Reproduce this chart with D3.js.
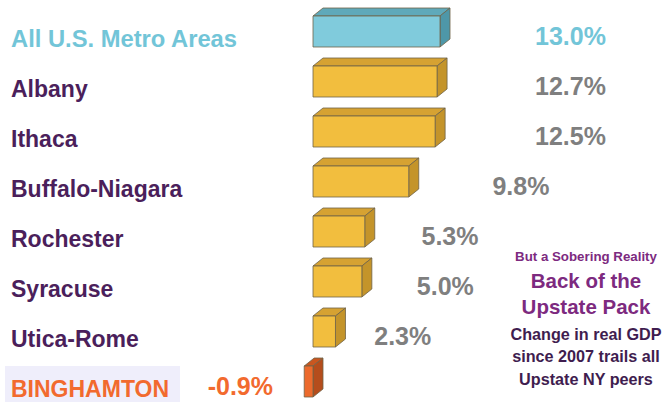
<!DOCTYPE html>
<html>
<head>
<meta charset="utf-8">
<script src="https://cdn.jsdelivr.net/npm/d3@7"></script>
<style>
  body { margin: 0; background: #fff; }
  svg { display: block; font-family: "Liberation Sans", Arial, sans-serif; }
  text { font-weight: 700; }
</style>
</head>
<body>
<svg></svg>
<script>
let width = 666;
let height = 402;

// data
let areas = ["All U.S. Metro Areas", "Albany", "Ithaca", "Buffalo-Niagara",
             "Rochester", "Syracuse", "Utica-Rome", "BINGHAMTON"];
let gdpChange = [13.0, 12.7, 12.5, 9.8, 5.3, 5.0, 2.3, -0.9];
let valueLabels = ["13.0%", "12.7%", "12.5%", "9.8%", "5.3%", "5.0%", "2.3%", "-0.9%"];
let noteLines = ["But a Sobering Reality", "Back of the", "Upstate Pack",
                 "Change in real GDP", "since 2007 trails all", "Upstate NY peers"];

// colours: front, top, side, label
let palette = {
  us:   {front: "#80cbdc", top: "#5fa9ba", side: "#4e97a8", label: "#72c5d8", value: "#72c5d8"},
  ny:   {front: "#f2be3e", top: "#d6a232", side: "#c4942a", label: "#4b1f5b", value: "#7f7f7f"},
  bing: {front: "#ec6a2c", top: "#c9561f", side: "#b54d1c", label: "#f26a2e", value: "#f26a2e"}
};
function kind(i) {
  if (i === 0) return "us";
  if (gdpChange[i] < 0) return "bing";
  return "ny";
}

let rows = areas.map((a, i) => ({name: a, value: gdpChange[i], label: valueLabels[i], k: kind(i)}));

let svg = d3.select("svg")
  .attr("width", width)
  .attr("height", height);

let x = d3.scaleLinear().domain([0, 13]).range([313, 440]);
let y = d3.scalePoint().domain(areas).range([47, 397]);
let labelX = d3.scaleLinear().domain([0, 12.5]).range([338, 535]).clamp(true);

let barH = 31, dx = 10, dy = 8;

// highlight behind Binghamton
svg.append("rect")
  .attr("x", 5)
  .attr("y", y("BINGHAMTON") - 31)
  .attr("width", 175)
  .attr("height", 40)
  .attr("fill", "#efeefb");

// category labels
let cats = svg.selectAll(".cat")
  .data(rows)
  .enter()
  .append("text")
    .attr("class", "cat")
    .attr("x", 11)
    .attr("y", d => y(d.name))
    .attr("font-size", "23px")
    .attr("fill", d => palette[d.k].label)
    .text(d => d.name);

// the US label was squeezed to fit its box
cats.filter(d => d.k === "us")
  .attr("textLength", 226)
  .attr("lengthAdjust", "spacingAndGlyphs");

// 3d boxes
let box = svg.selectAll(".box")
  .data(rows)
  .enter()
  .append("g")
    .attr("class", "box")
    .attr("stroke", "#6f6248")
    .attr("stroke-width", 0.8)
    .attr("stroke-linejoin", "round");

function geo(d) {
  let x0 = Math.min(x(0), x(d.value));
  let w = Math.abs(x(d.value) - x(0));
  let t = y(d.name) - barH;
  return {x0, w, t};
}

box.append("polygon")
  .attr("fill", d => palette[d.k].top)
  .attr("points", d => {
    let g = geo(d);
    return [[g.x0, g.t], [g.x0 + dx, g.t - dy], [g.x0 + g.w + dx, g.t - dy], [g.x0 + g.w, g.t]].join(" ");
  });

box.append("polygon")
  .attr("fill", d => palette[d.k].side)
  .attr("points", d => {
    let g = geo(d);
    return [[g.x0 + g.w, g.t], [g.x0 + g.w + dx, g.t - dy], [g.x0 + g.w + dx, g.t + barH - dy], [g.x0 + g.w, g.t + barH]].join(" ");
  });

box.append("rect")
  .attr("fill", d => palette[d.k].front)
  .attr("x", d => geo(d).x0)
  .attr("y", d => geo(d).t)
  .attr("width", d => geo(d).w)
  .attr("height", barH);

// value labels
svg.selectAll(".val")
  .data(rows)
  .enter()
  .append("text")
    .attr("class", "val")
    .attr("x", d => d.value < 0 ? x(0) - 40 : labelX(d.value))
    .attr("y", d => y(d.name) - 2)
    .attr("text-anchor", d => d.value < 0 ? "end" : "start")
    .attr("font-size", "25px")
    .attr("fill", d => palette[d.k].value)
    .text(d => d.label);

// side note
let noteStyle = [
  {size: 13.3, fill: "#7d2a7f", y: 261},
  {size: 20.5, fill: "#7d2a7f", y: 288},
  {size: 20.5, fill: "#7d2a7f", y: 314},
  {size: 16.2, fill: "#3f1d4f", y: 340},
  {size: 16.2, fill: "#3f1d4f", y: 362},
  {size: 16.2, fill: "#3f1d4f", y: 385}
];
svg.selectAll(".note")
  .data(noteLines)
  .enter()
  .append("text")
    .attr("class", "note")
    .attr("x", 586)
    .attr("y", (d, i) => noteStyle[i].y)
    .attr("text-anchor", "middle")
    .attr("font-size", (d, i) => noteStyle[i].size + "px")
    .attr("fill", (d, i) => noteStyle[i].fill)
    .text(d => d);
</script>
</body>
</html>
